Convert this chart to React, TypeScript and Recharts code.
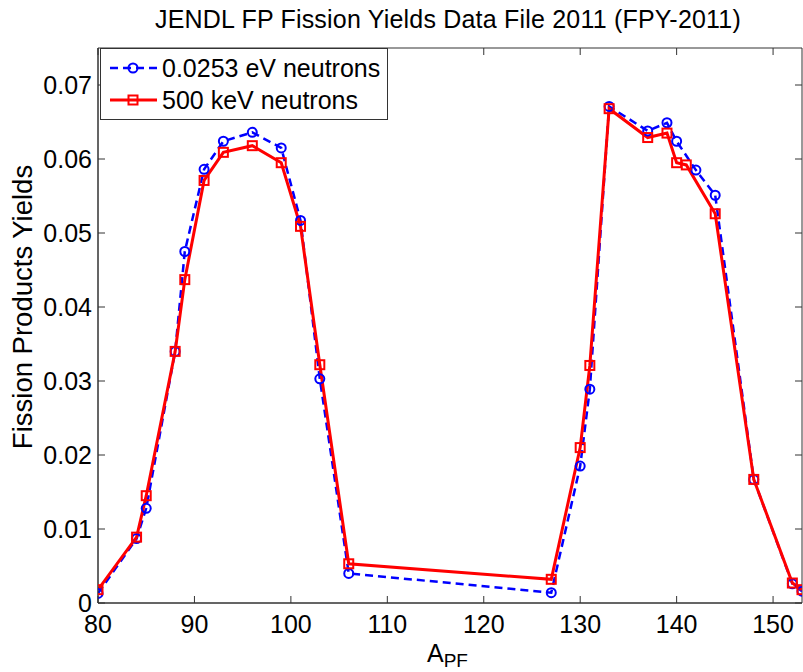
import { LineChart, Line, XAxis, YAxis, ReferenceArea } from "recharts";

// 0.0253 eV neutrons (thermal)
const thermalA = [80, 84, 85, 88, 89, 91, 93, 96, 99, 101, 103, 106, 127, 130, 131, 133, 137, 139, 140, 142, 144, 148, 152, 153];
const thermalY = [0.0013, 0.0087, 0.0128, 0.034, 0.0475, 0.0586, 0.0624, 0.0636, 0.0615, 0.0517, 0.0303, 0.004, 0.0014, 0.0185, 0.0289, 0.0671, 0.0638, 0.0649, 0.0624, 0.0585, 0.0551, 0.0167, 0.0026, 0.0016];

// 500 keV neutrons
const fastA = [80, 84, 85, 88, 89, 91, 93, 96, 99, 101, 103, 106, 127, 130, 131, 133, 137, 139, 140, 141, 144, 148, 152, 153];
const fastY = [0.0018, 0.0089, 0.0145, 0.034, 0.0437, 0.0571, 0.0609, 0.0618, 0.0595, 0.0509, 0.0322, 0.0053, 0.0032, 0.021, 0.0321, 0.0668, 0.0629, 0.0635, 0.0595, 0.0592, 0.0526, 0.0167, 0.0027, 0.0018];

const xTicks = [80, 90, 100, 110, 120, 130, 140, 150];
const yTicks = [0, 0.01, 0.02, 0.03, 0.04, 0.05, 0.06, 0.07];

const thermalData = thermalA.map((a, i) => ({ a, y: thermalY[i] }));
const fastData = fastA.map((a, i) => ({ a, y: fastY[i] }));

const W = 803;
const H = 672;
const PL = 98;
const PR = 802;
const PT = 48;
const PB = 603;
const AXIS = "#333";
const FONT = "'Liberation Sans', Arial, Helvetica, sans-serif";
const FS = 25;
const BLUE = "#0000ff";
const RED = "#ff0000";

const XTick = ({ x, payload }: any) => (
  <g>
    <line x1={x} x2={x} y1={PB} y2={PB - 7} stroke={AXIS} />
    <line x1={x} x2={x} y1={PT} y2={PT + 7} stroke={AXIS} />
    <text x={x} y={PB + 30} textAnchor="middle" fontSize={FS} fontFamily={FONT} fill="#000">
      {payload.value}
    </text>
  </g>
);

const YTick = ({ y, payload }: any) => (
  <g>
    <line x1={PL} x2={PL + 7} y1={y} y2={y} stroke={AXIS} />
    <line x1={PR} x2={PR - 7} y1={y} y2={y} stroke={AXIS} />
    <text x={PL - 6} y={y + 8.5} textAnchor="end" fontSize={FS} fontFamily={FONT} fill="#000">
      {payload.value === 0 ? "0" : payload.value.toFixed(2)}
    </text>
  </g>
);

const CircleDot = ({ cx, cy, index }: any) => (
  <circle key={`c${index}`} cx={cx} cy={cy} r={4.5} fill="none" stroke={BLUE} strokeWidth={2} />
);

const SquareDot = ({ cx, cy, index }: any) => (
  <rect key={`s${index}`} x={cx - 4.5} y={cy - 4.5} width={9} height={9} fill="none" stroke={RED} strokeWidth={2} />
);

export default function App() {
  return (
    <div style={{ position: "absolute", left: 0, top: 0, width: W, height: H, background: "#fff" }}>
      <LineChart width={W} height={H} margin={{ top: PT, right: W - PR, bottom: 0, left: 0 }}>
        <XAxis
          dataKey="a"
          type="number"
          domain={[80, 153]}
          ticks={xTicks}
          allowDataOverflow
          height={H - PB}
          tickLine={false}
          axisLine={{ stroke: AXIS }}
          tick={<XTick />}
          interval={0}
        />
        <YAxis
          dataKey="y"
          type="number"
          domain={[0, 0.075]}
          ticks={yTicks}
          allowDataOverflow
          width={PL}
          tickLine={false}
          axisLine={{ stroke: AXIS }}
          tick={<YTick />}
          interval={0}
        />
        <ReferenceArea x1={80} x2={153} y1={0} y2={0.075} fill="none" stroke={AXIS} strokeWidth={1} />
        <Line
          data={thermalData}
          dataKey="y"
          stroke={BLUE}
          strokeWidth={2.5}
          strokeDasharray="8 5"
          dot={CircleDot}
          activeDot={false}
          isAnimationActive={false}
        />
        <Line
          data={fastData}
          dataKey="y"
          stroke={RED}
          strokeWidth={3}
          dot={SquareDot}
          activeDot={false}
          isAnimationActive={false}
        />
      </LineChart>

      <svg width={W} height={H} style={{ position: "absolute", left: 0, top: 0, pointerEvents: "none" }}>
        <text x={(PL + PR) / 2 - 2} y={28} textAnchor="middle" fontSize={FS} letterSpacing={0.2} fontFamily={FONT} fill="#000">
          JENDL FP Fission Yields Data File 2011 (FPY-2011)
        </text>
        <text
          x={32}
          y={307}
          transform="rotate(-90, 32, 307)"
          textAnchor="middle"
          fontSize={27.5}
          fontFamily={FONT}
          fill="#000"
        >
          Fission Products Yields
        </text>
        <text x={427} y={662} fontSize={FS} fontFamily={FONT} fill="#000">
          A
          <tspan fontSize={19} dy={5}>PF</tspan>
        </text>

        <g>
          <rect x={100.5} y={48.5} width={287} height={71} fill="#fff" stroke={AXIS} />
          <line x1={110} x2={157} y1={68} y2={68} stroke={BLUE} strokeWidth={2.5} strokeDasharray="8 5" />
          <circle cx={133} cy={68} r={4.5} fill="none" stroke={BLUE} strokeWidth={2} />
          <text x={162} y={77} fontSize={FS} fontFamily={FONT} fill="#000">0.0253 eV neutrons</text>
          <line x1={110} x2={157} y1={100} y2={100} stroke={RED} strokeWidth={3} />
          <rect x={128.5} y={95.5} width={9} height={9} fill="none" stroke={RED} strokeWidth={2} />
          <text x={162} y={109} fontSize={FS} fontFamily={FONT} fill="#000">500 keV neutrons</text>
        </g>
      </svg>
    </div>
  );
}
